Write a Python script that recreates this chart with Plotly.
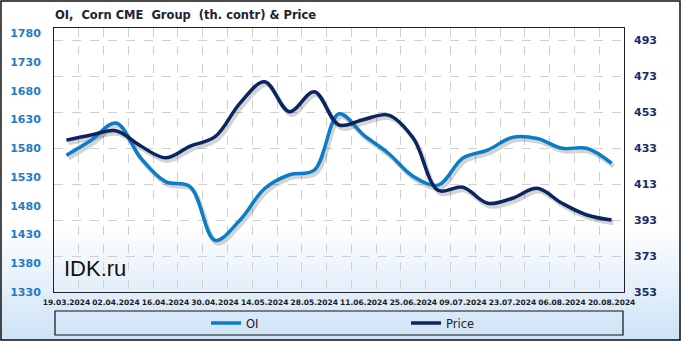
import base64
import plotly.graph_objects as go

# ---- data ----
dates = ["2024-03-19", "2024-03-26", "2024-04-02", "2024-04-09", "2024-04-16", "2024-04-23",
         "2024-04-30", "2024-05-07", "2024-05-14", "2024-05-21", "2024-05-28", "2024-06-04",
         "2024-06-11", "2024-06-18", "2024-06-25", "2024-07-02", "2024-07-09", "2024-07-16",
         "2024-07-23", "2024-07-30", "2024-08-06", "2024-08-13", "2024-08-20"]
oi = [1568, 1594, 1624, 1563, 1522, 1513, 1420, 1455, 1510, 1534, 1542, 1640,
      1603, 1571, 1531, 1516, 1563, 1577, 1599, 1597, 1580, 1580, 1554]
price = [437.4, 440.2, 442.6, 434.1, 427.6, 434.1, 439.3, 457.8, 469.8, 453.2, 464.3, 445.8,
         448.9, 451.3, 438.4, 409.5, 411.2, 402.3, 405.1, 410.6, 402.3, 395.8, 393.0]
x_tick_vals = ["2024-03-19", "2024-04-02", "2024-04-16", "2024-04-30", "2024-05-14", "2024-05-28",
               "2024-06-11", "2024-06-25", "2024-07-09", "2024-07-23", "2024-08-06", "2024-08-20"]
x_tick_text = ["19.03.2024", "02.04.2024", "16.04.2024", "30.04.2024", "14.05.2024", "28.05.2024",
               "11.06.2024", "25.06.2024", "09.07.2024", "23.07.2024", "06.08.2024", "20.08.2024"]
left_ticks = [1330, 1380, 1430, 1480, 1530, 1580, 1630, 1680, 1730, 1780]
right_ticks = [353, 373, 393, 413, 433, 453, 473, 493]
title_text = "OI,\u00a0 Corn CME\u00a0 Group\u00a0 (th. contr) & Price"

# ---- geometry ----
W, H = 681, 341
ML, MR, MT, MB = 54, 57, 28, 49
PW, PH = W - ML - MR, H - MT - MB

x_range = ["2024-03-15 12:00", "2024-08-23 12:00"]
x_shadow = ["2024-03-14 22:30", "2024-08-22 22:30"]
yl_range = [1330, 1789.3]
yr_range = [353, 499.7]
yl_shadow = [1335.2, 1794.5]
yr_shadow = [354.67, 501.37]

OI_C = "#0a7cc8"
PR_C = "#0c2461"
SH_C = "rgba(0,0,0,0.17)"

fig = go.Figure()
# invisible carrier on the main axes (keeps the labelled subplot alive, drawn first)
fig.add_trace(go.Scatter(x=dates, y=oi, xaxis="x", yaxis="y", mode="lines",
                         line=dict(color="rgba(0,0,0,0)", width=0),
                         showlegend=False, hoverinfo="skip"))
# shadows
fig.add_trace(go.Scatter(x=dates, y=oi, xaxis="x2", yaxis="y3", mode="lines",
                         line=dict(color=SH_C, width=4.5, shape="spline"),
                         showlegend=False, hoverinfo="skip"))
fig.add_trace(go.Scatter(x=dates, y=price, xaxis="x2", yaxis="y4", mode="lines",
                         line=dict(color=SH_C, width=4.5, shape="spline"),
                         showlegend=False, hoverinfo="skip"))
# real lines
fig.add_trace(go.Scatter(x=dates, y=oi, xaxis="x3", yaxis="y", mode="lines", name="OI",
                         line=dict(color=OI_C, width=3.5, shape="spline")))
fig.add_trace(go.Scatter(x=dates, y=price, xaxis="x3", yaxis="y2", mode="lines", name="Price",
                         line=dict(color=PR_C, width=3.5, shape="spline")))

grad_svg = (
    '<svg xmlns="http://www.w3.org/2000/svg" width="100" height="100" viewBox="0 0 100 100" '
    'preserveAspectRatio="none"><defs><linearGradient id="g" x1="0" y1="0" x2="0" y2="1">'
    '<stop offset="0" stop-color="#ffffff"/><stop offset="0.66" stop-color="#ffffff"/>'
    '<stop offset="1" stop-color="#cde2f6"/></linearGradient></defs>'
    '<rect x="0" y="0" width="100" height="100" fill="url(#g)"/></svg>'
)
grad_uri = "data:image/svg+xml;base64," + base64.b64encode(grad_svg.encode()).decode()

def px(xp):
    return (xp - ML) / PW

def py(yp):
    return (H - MB - yp) / PH

tick_font = dict(family="DejaVu Sans", size=7.5, color="#1a1a1a", weight="bold")

fig.update_layout(
    width=W, height=H,
    margin=dict(l=ML, r=MR, t=MT, b=MB, autoexpand=False),
    paper_bgcolor="white",
    plot_bgcolor="rgba(0,0,0,0)",
    title=dict(text=title_text, x=55 / W, xanchor="left", xref="container",
               y=1 - 14.5 / H, yanchor="middle", yref="container",
               font=dict(family="DejaVu Sans", size=11.5, color="#222233", weight="bold")),
    xaxis=dict(type="date", range=x_range, tickmode="array", tickvals=x_tick_vals,
               ticktext=x_tick_text, tickangle=0, showgrid=False, ticks="",
               ticklabelstandoff=3, tickfont=tick_font, anchor="y",
               showline=True, linecolor="#222", linewidth=1, mirror=True,
               minor=dict(dtick=7 * 86400000, tick0="2024-03-15 12:00", showgrid=True,
                          gridcolor="#cfcfcf", griddash="dash", gridwidth=1, ticks=""),
               zeroline=False),
    xaxis2=dict(type="date", range=x_shadow, overlaying="x", visible=False),
    xaxis3=dict(type="date", range=x_range, overlaying="x", visible=False),
    yaxis=dict(range=yl_range, tickvals=left_ticks, showgrid=False, ticks="",
               ticklabelstandoff=10, zeroline=False, anchor="x",
               tickfont=dict(family="DejaVu Sans", size=11, color="#1f7bc6", weight="bold"),
               showline=True, linecolor="#222", linewidth=1, mirror=True),
    yaxis2=dict(range=yr_range, tickvals=right_ticks, overlaying="y", side="right",
                showgrid=True, gridcolor="#cfcfcf", griddash="dash", gridwidth=1,
                ticks="", ticklabelstandoff=9, zeroline=False, anchor="x",
                tickfont=dict(family="DejaVu Sans", size=11, color="#1b2b69", weight="bold")),
    yaxis3=dict(range=yl_shadow, overlaying="y", visible=False),
    yaxis4=dict(range=yr_shadow, overlaying="y", visible=False),
    legend=dict(orientation="h", x=px(206), y=py(323), xanchor="left", yanchor="middle",
                xref="paper", yref="paper",
                entrywidth=155, entrywidthmode="pixels", itemwidth=30,
                bgcolor="rgba(0,0,0,0)", borderwidth=0,
                font=dict(family="DejaVu Sans", size=11.5, color="#222")),
    images=[dict(source=grad_uri, xref="paper", yref="paper", x=px(0), y=py(0),
                 sizex=W / PW, sizey=H / PH, sizing="stretch", xanchor="left",
                 yanchor="top", layer="below")],
    annotations=[dict(text="IDK.ru", xref="paper", yref="paper", x=px(62), y=py(268),
                      xanchor="left", yanchor="middle", showarrow=False,
                      font=dict(family="Liberation Sans", size=22, color="#111"))],
    shapes=[
        dict(type="rect", xref="paper", yref="paper", x0=px(55), x1=px(623), y0=py(335),
             y1=py(311), line=dict(color="#111", width=1.2), fillcolor="rgba(0,0,0,0)"),
        dict(type="rect", xref="paper", yref="paper", x0=px(1), x1=px(680), y0=py(340),
             y1=py(1), line=dict(color="#111", width=1.5), fillcolor="rgba(0,0,0,0)"),
    ],
    showlegend=True,
)

fig.write_html("out.html")
